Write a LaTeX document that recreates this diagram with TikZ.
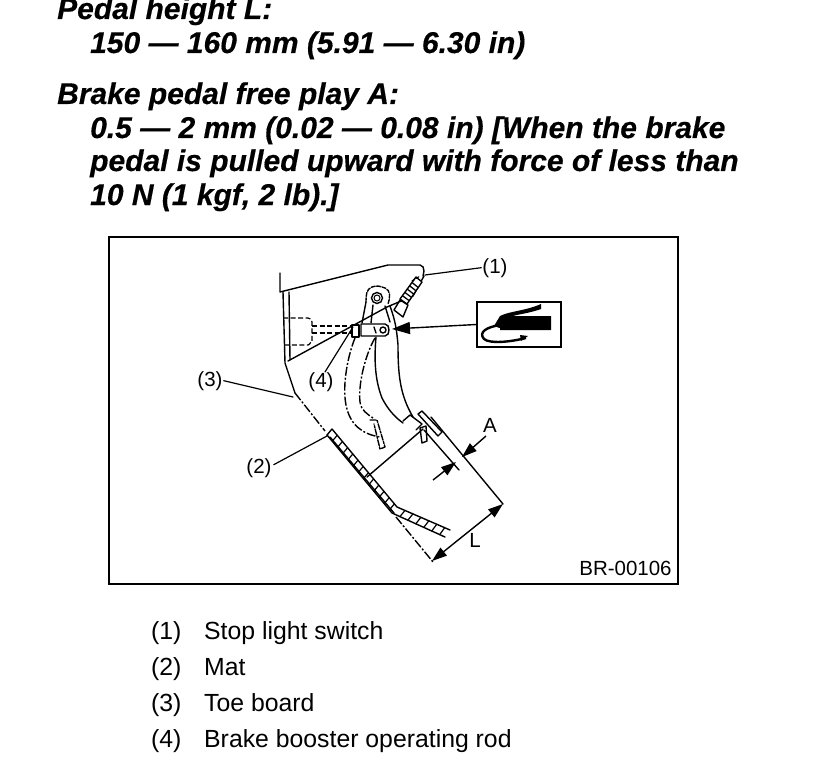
\documentclass[tikz,border=0pt]{standalone}
\usepackage{fontspec}
\setmainfont{Liberation Sans}
\newfontfamily\hdfont[BoldItalicFeatures={FakeBold=0.35}]{Liberation Sans}
\usetikzlibrary{arrows.meta,calc}
\tikzset{
 hd/.style={anchor=base west,inner sep=0pt,font=\hdfont\fontsize{30}{33}\selectfont\bfseries\itshape},
 lab/.style={anchor=base,inner sep=1pt,font=\fontsize{20.5}{23}\selectfont},
 leg/.style={anchor=base west,inner sep=0pt,font=\fontsize{24.8}{28}\selectfont},
 ln/.style={line width=1.4pt,line cap=round,line join=round},
 thn/.style={line width=1.2pt,line cap=round,line join=round},
 ghost/.style={line width=1.4pt,dash pattern=on 9pt off 2pt on 2pt off 2pt},
 hid/.style={line width=1.2pt,dash pattern=on 5pt off 2.5pt},
 tip/.style={-{Triangle[length=15pt,width=10pt]},line width=1.4pt},
}
\begin{document}
\begin{tikzpicture}[x=1pt,y=-1pt]
\useasboundingbox (0,0) rectangle (816,762);
\clip (0,0) rectangle (816,762);
\fill[white] (0,0) rectangle (816,762);
% heading
\node[hd] (t1) at (57,19) {Pedal height L:};
\node[hd] (t2) at (90,53) {150 — 160 mm (5.91 — 6.30 in)};
\node[hd] (t3) at (57,104) {Brake pedal free play A:};
\node[hd] (t4) at (90,138) {0.5 — 2 mm (0.02 — 0.08 in) [When the brake};
\node[hd] (t5) at (90,171) {pedal is pulled upward with force of less than};
\node[hd] (t6) at (90,205) {10 N (1 kgf, 2 lb).]};
% frame
\draw[line width=1.2pt] (109,237) rectangle (678,584);
% firewall and bracket
\draw[ln] (280,273) -- (280,292) -- (388,265) -- (420,265) to[out=0,in=90] (424,271) -- (423,276);
\draw[ln] (424,276) -- (413,296) -- (387,307) -- (288,361);
\draw[ln] (283,292) -- (285,363) -- (295,393);
\draw[ln] (289,292) -- (290,360);
% toe board line
\draw[ghost] (295,393) -- (325,431);
\draw[ln] (330,437) -- (394,513);
\draw[ghost] (396,517) -- (433,562);
% mat
\coordinate (a1) at (332,429); \coordinate (a2) at (397,507); \coordinate (a3) at (450,530);
\coordinate (b1) at (327,435); \coordinate (b2) at (392,513); \coordinate (b3) at (445,537);
\draw[ln] (b1) -- (a1) -- (a2) -- (a3);
\draw[ln] (b1) -- (b2) -- (b3);
\foreach \t in {0.08,0.16,...,0.97}{
 \draw[thn] ($(a1)!\t!(a2)$) -- ($(b1)!\t!(b2)$);
}
\foreach \t in {0.15,0.3,...,0.95}{
 \draw[thn] ($(a2)!\t!(a3)$) -- ($(b2)!\t!(b3)$);
}
% dashed booster
\draw[hid] (283,318) -- (308,318) to[out=0,in=90] (312,322) -- (312,341) to[out=90,in=0] (308,345) -- (285,345);
\draw[hid] (312,326) -- (352,326);
\draw[hid] (312,333) -- (352,333);
% pivot
\draw[line width=1.4pt] (377,298) circle (5.5);
\draw[line width=1pt] (377,298) circle (3);
\draw[ln,dash pattern=on 4pt off 1.5pt] (366,302) to[out=90,in=200] (372,287) to[out=20,in=160] (385,288) to[out=-20,in=70] (388,304);
\draw[ln] (366,302) -- (362,323);
\draw[ln] (373,305) -- (371,323);
% clevis
\draw[ln,fill=white] (361,324) -- (385,324) to[out=0,in=90] (389,330) to[out=-90,in=0] (385,336) -- (361,336) -- cycle;
\draw[ln,fill=white] (352,325) rectangle (359,337);
\draw[ln] (383,330) circle (3);
\draw[ln] (374,327) -- (376,333);
% switch
\draw[ln,fill=white] (400,299) -- (416,277) -- (422,282) -- (407,304) -- cycle;
\foreach \t in {0.15,0.3,...,0.9}{
 \draw[line width=1.3pt] ($(400,299)!\t!(416,277)$) -- ($(407,304)!\t!(422,282)$);
}
\draw[ln] (394,310) -- (400,300) -- (408,305) -- (403,317) -- cycle;
\draw[thn,dash pattern=on 3pt off 2pt] (412,281) -- (420,276);
% solid pedal
\draw[ln] (390,306) to[out=-70,in=95] (398,345) .. controls (398,375) and (400,395) .. (413,417);
\draw[ln] (376,337) .. controls (374,360) and (375,380) .. (382,398) .. controls (388,410) and (396,418) .. (403,423);
\draw[ln] (385,306) -- (390,322);
% pad
\draw[ln,fill=white] (418,414) -- (422,411) -- (442,432) -- (438,436) -- cycle;
\draw[ln] (403,421) -- (410,415) -- (422,424) -- (416,430);
\draw[ln,fill=white] (420,428) -- (426,426) -- (427,441) -- (422,443) -- cycle;
% ghost pedal
\draw[ghost] (355,338) .. controls (348,355) and (342,385) .. (346,405) .. controls (350,425) and (362,434) .. (380,437);
\draw[ghost] (375,338) .. controls (365,355) and (358,385) .. (360,402) .. controls (361,410) and (367,414) .. (373,418);
\draw[ln,dash pattern=on 6pt off 1.5pt on 2pt off 1.5pt] (370,420) -- (377,420) -- (385,447) -- (380,449) -- (374,424);
% dimension lines
\coordinate (lt) at (503,504); \coordinate (lb) at (432,561);
\draw[ln] (431,417) -- (lt);
\draw[ln] (424,430) -- (459,470);
\draw[ln] (367,477) -- (423,429);
\draw[line width=1.4pt,{Triangle[length=15pt,width=10pt]}-{Triangle[length=15pt,width=10pt]}] (lb) -- (lt);
\coordinate (aa) at (462,457); \coordinate (ab) at (456,462);
\draw[tip] (486,436) -- (aa);
\draw[tip] (433,480) -- (ab);
% grease box
\node[draw,line width=1.3pt,minimum width=84pt,minimum height=45pt,inner sep=0pt] (box) at (519,324.5) {};
\fill (500,316) .. controls (510,311) and (525,311) .. (541,304) -- (541,309) .. controls (530,313) and (520,314) .. (513,316) -- (551,316) -- (551,330) -- (500,330) -- cycle;
\fill (500,316) -- (505,330) -- (494,326) -- cycle;
\draw[line width=2.4pt] (500,325) .. controls (487,327) and (478,332) .. (484,339) .. controls (490,344) and (510,342) .. (526,338);
\fill (520,335) -- (528,336) -- (521,341) -- cycle;
\coordinate (c4) at (392,329);
\draw[-{Triangle[length=18pt,width=12pt]},line width=1.4pt] (box.west) -- (c4);
% leaders
\node[lab] (n1) at (495,273) {(1)};
\node[lab] (n2) at (259,473) {(2)};
\node[lab] (n3) at (210,386) {(3)};
\node[lab] (n4) at (321,387) {(4)};
\coordinate (e1) at (425,275); \coordinate (e2) at (327,436); \coordinate (e3) at (293,397); \coordinate (e4) at (353,327);
\draw[thn] (n1.west) -- (e1);
\draw[thn] (n2.east) ++(1,-3) -- (e2);
\draw[thn] (n3.east) -- (e3);
\draw[thn] (n4.north) ++(4,1) -- (e4);
\node[lab] (na) at (490,432) {A};
\node[lab] (nl) at (475,547) {L};
\node[lab] (br) at (625.5,575) {BR-00106};
% legend
\node[leg] at (151,639) (l1) {(1)}; \node[leg] at (204,639) (l1t) {Stop light switch};
\node[leg] at (151,675) (l2) {(2)}; \node[leg] at (204,675) (l2t) {Mat};
\node[leg] at (151,711) (l3) {(3)}; \node[leg] at (204,711) (l3t) {Toe board};
\node[leg] at (151,747) (l4) {(4)}; \node[leg] at (204,747) (l4t) {Brake booster operating rod};
\end{tikzpicture}
\end{document}
